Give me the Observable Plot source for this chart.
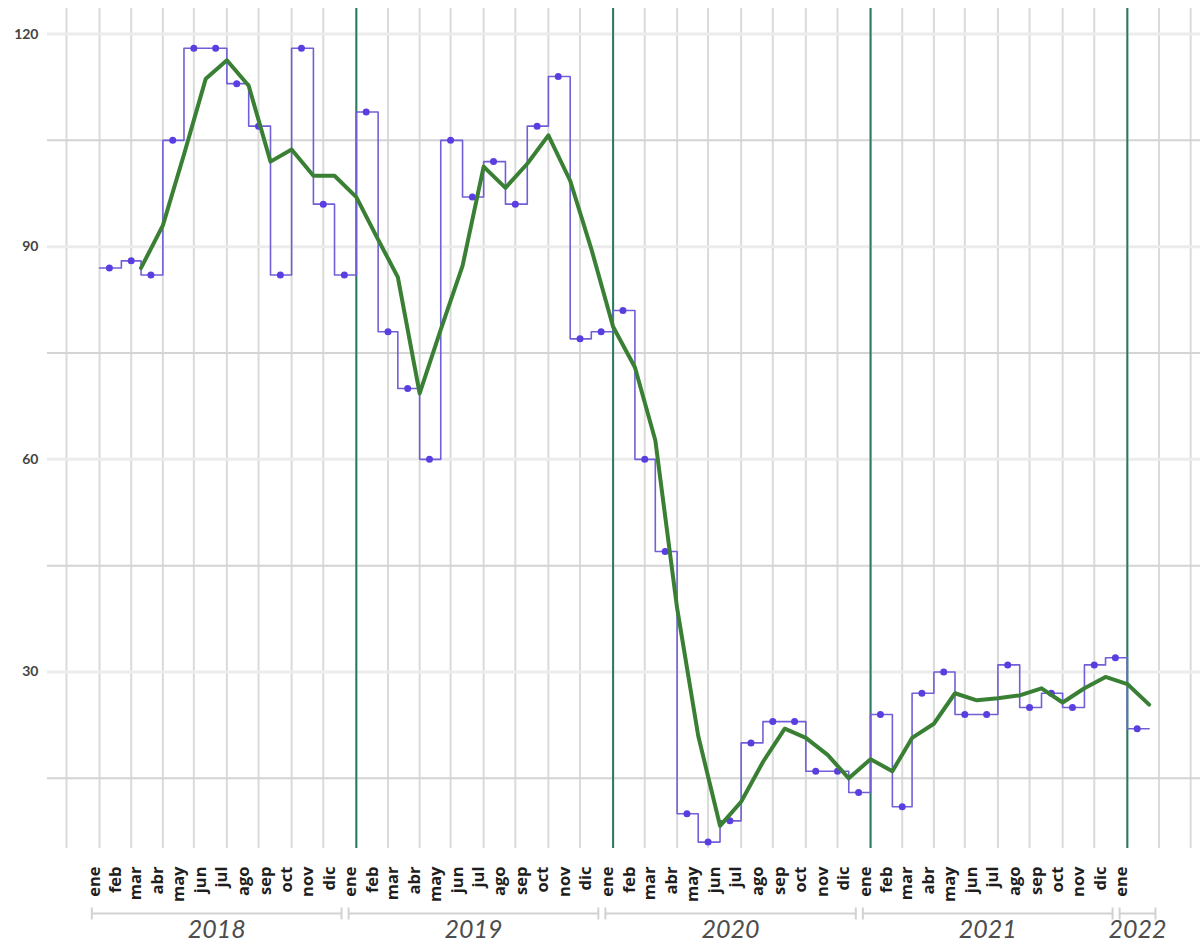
<!DOCTYPE html>
<html>
<head>
<meta charset="utf-8">
<script src="https://cdn.jsdelivr.net/npm/d3@7"></script>
<script src="https://cdn.jsdelivr.net/npm/@observablehq/plot@0.6"></script>
<style>
  html, body { margin: 0; padding: 0; background: #fff; }
  #chart { width: 1200px; height: 950px; }
</style>
</head>
<body>
<div id="chart"></div>
<script>
// ---- data ----
const monthNames = ["ene","feb","mar","abr","may","jun","jul","ago","sep","oct","nov","dic"];
const years = [2018, 2019, 2020, 2021, 2022];
// monthly values, Jan 2018 .. Jan 2022
const monthlyStart = [2018, 0];
const monthlyValues = [
  87, 88, 86, 105, 118, 118, 113, 107, 86, 118, 96, 86,
  109, 78, 70, 60, 105, 97, 102, 96, 107, 114, 77, 78,
  81, 60, 47, 10, 6, 9, 20, 23, 23, 16, 16, 13,
  24, 11, 27, 30, 24, 24, 31, 25, 27, 25, 31, 32,
  22
];
// smoothed series (3-month average), Mar 2018 .. Feb 2022
const avgStart = [2018, 2];
const avgValues = [
  87.0, 93.0, 103.0, 113.7, 116.3, 112.7, 102.0, 103.7, 100.0, 100.0,
  97.0, 91.0, 85.7, 69.3, 78.3, 87.3, 101.3, 98.3, 101.7, 105.7, 99.3, 89.7,
  78.7, 73.0, 62.7, 39.0, 21.0, 8.3, 11.7, 17.3, 22.0, 20.7, 18.3, 15.0,
  17.7, 16.0, 20.7, 22.7, 27.0, 26.0, 26.3, 26.7, 27.7, 25.7, 27.7, 29.3,
  28.3, 25.4
];
const yTickLabels = [30, 60, 90, 120];
const yMinorGrid = [15, 45, 75, 105];
const yDomain = [5.1, 123.6];
const xDomain = [new Date(Date.UTC(2017, 9, 19)), new Date(Date.UTC(2022, 3, 15))];

// ---- derived tables ----
const monthDate = (y, m, d = 1) => new Date(Date.UTC(y, m, d));
const monthly = monthlyValues.map((v, i) => ({
  start: monthDate(monthlyStart[0], monthlyStart[1] + i),
  mid: monthDate(monthlyStart[0], monthlyStart[1] + i, 15),
  value: v
}));
const stepData = [...monthly.map(d => ({date: d.start, value: d.value})),
  {date: monthDate(monthlyStart[0], monthlyStart[1] + monthlyValues.length), value: monthlyValues[monthlyValues.length - 1]}];
const avg = avgValues.map((v, i) => ({date: monthDate(avgStart[0], avgStart[1] + i), value: v}));

// month labels: Jan 2018 .. Jan 2022
const monthLabels = [];
for (const y of years) {
  const last = y === years[years.length - 1] ? 0 : 11;
  for (let m = 0; m <= last; m++) monthLabels.push({date: monthDate(y, m), name: monthNames[m], year: y});
}
// year brackets spanning each year's labels
const day = 864e5;
const brackets = years.map(y => {
  const ls = monthLabels.filter(d => d.year === y);
  const x1 = new Date(+ls[0].date - 11 * day);
  const x2 = new Date(Math.max(+ls[ls.length - 1].date + 10 * day, +ls[0].date + 40 * day));
  return {year: y, x1, x2, mid: new Date((+x1 + +x2) / 2)};
});
const caps = brackets.flatMap(b => [{x: b.x1}, {x: b.x2}]);

// vertical grid every 1.5 months
const gridDates = [];
for (let y = 2017; y <= 2022; y++) {
  [[0,1],[1,15],[3,1],[4,15],[6,1],[7,15],[9,1],[10,15]].forEach(([m, d]) => {
    const dt = monthDate(y, m, d);
    if (dt >= xDomain[0] && dt <= xDomain[1]) gridDates.push(dt);
  });
}
const yearStarts = years.slice(1).map(y => monthDate(y, 0));

const vline = {draw(ctx, size) { const h = Math.sqrt(size / Math.PI); ctx.moveTo(0, -h); ctx.lineTo(0, h); }};

const chart = Plot.plot({
  width: 1200,
  height: 950,
  marginTop: 8,
  marginBottom: 102,
  marginLeft: 47,
  marginRight: 0,
  style: {fontFamily: "Lato, 'Open Sans', sans-serif", fontSize: "14px", fontWeight: "bold", color: "#444", background: "#fff"},
  x: {type: "utc", domain: xDomain, axis: null},
  y: {domain: yDomain, ticks: yTickLabels, tickSize: 0, tickPadding: 9, label: null, tickFormat: d => String(d)},
  marks: [
    Plot.ruleX(gridDates, {stroke: "#dadada", strokeWidth: 2}),
    Plot.ruleY(yMinorGrid, {stroke: "#d4d4d4", strokeWidth: 2}),
    Plot.ruleY(yTickLabels, {stroke: "#ececec", strokeWidth: 3}),
    Plot.ruleX(yearStarts, {stroke: "#257a60", strokeWidth: 2}),
    Plot.line(stepData, {x: "date", y: "value", curve: "step-after", stroke: "#7060d8", strokeWidth: 1.6}),
    Plot.dot(monthly, {x: "mid", y: "value", r: 3.5, fill: "#5b3ee0"}),
    Plot.line(avg, {x: "date", y: "value", stroke: "#3a8034", strokeWidth: 4, strokeLinejoin: "round"}),
    // bottom month labels
    Plot.text(monthLabels, {x: "date", text: "name", frameAnchor: "bottom", dy: 18, rotate: -90, textAnchor: "end",
      fontSize: 16.5, fontWeight: "bold", fontFamily: "'Open Sans', sans-serif", fill: "#1e1e1e"}),
    // year brackets
    Plot.ruleY(brackets, {x1: "x1", x2: "x2", y: () => yDomain[0], dy: 65, stroke: "#d2d2d2", strokeWidth: 2}),
    Plot.dot(caps, {x: "x", y: () => yDomain[0], dy: 65, symbol: vline, r: 6, stroke: "#d2d2d2", strokeWidth: 2, fill: "none"}),
    Plot.text(brackets, {x: "mid", text: d => String(d.year), frameAnchor: "bottom", dy: 89,
      fontSize: 25, fontStyle: "italic", fontWeight: "normal", fill: "#4d4d4d"})
  ]
});
document.getElementById("chart").appendChild(chart);
</script>
</body>
</html>
